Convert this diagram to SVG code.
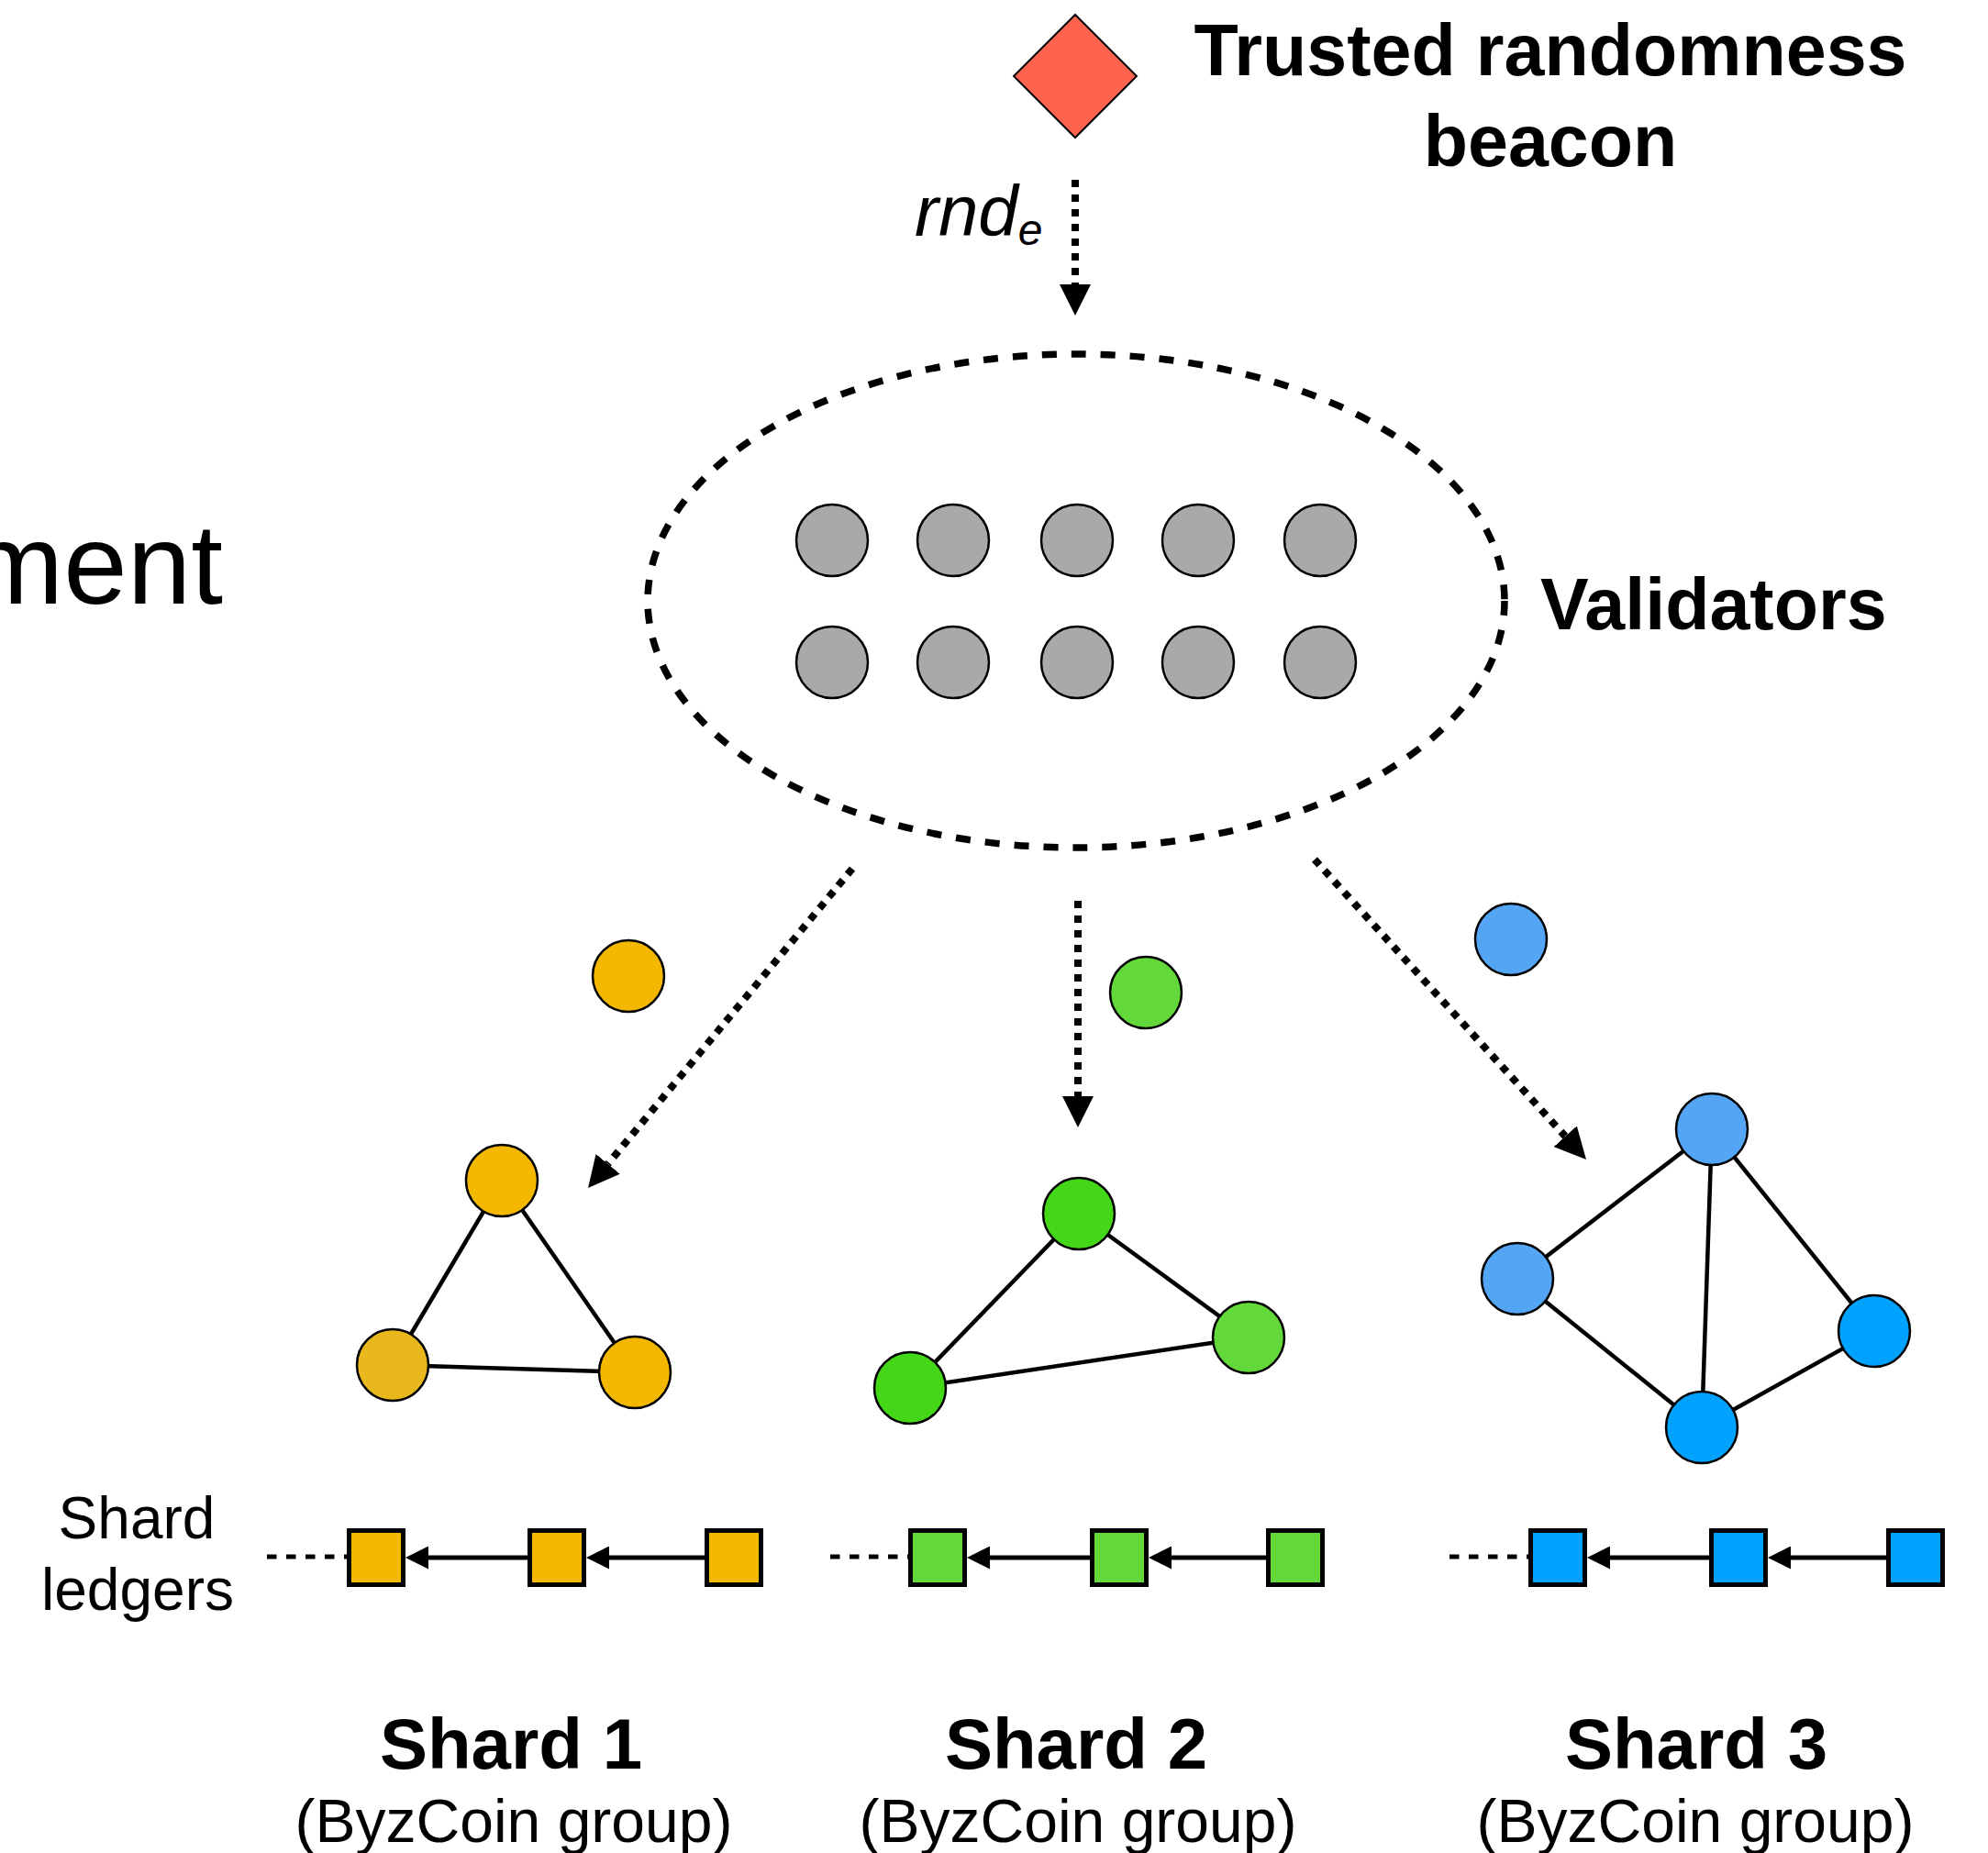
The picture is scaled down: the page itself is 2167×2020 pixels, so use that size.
<svg xmlns="http://www.w3.org/2000/svg" width="2167" height="2020" viewBox="0 0 2167 2020">
  <style>
    .bold { font-family: "Liberation Sans", Arial, sans-serif; font-weight: bold; fill: #000; }
    .reg { font-family: "Liberation Sans", Arial, sans-serif; font-weight: normal; fill: #000; }
    .ital { font-family: "Liberation Sans", Arial, sans-serif; font-style: italic; fill: #000; }
    .node { stroke: #000; stroke-width: 2.5; }
    .gray { fill: #a7aaa9; }
    .y1 { fill: #f5b800; }
    .y2 { fill: #e8b81c; }
    .g1 { fill: #44d718; }
    .g2 { fill: #63d83a; }
    .b1 { fill: #55a5f5; }
    .b2 { fill: #00a2ff; }
    .edge { stroke: #000; stroke-width: 4.5; fill: none; }
    .dots { stroke: #000; stroke-width: 8; stroke-dasharray: 8 8; fill: none; }
    .tail { stroke: #000; stroke-width: 5; stroke-dasharray: 10.5 10.5; fill: none; }
    .link { stroke: #000; stroke-width: 5; fill: none; }
    .block { stroke: #000; stroke-width: 5; }
  </style>
  <defs>
    <marker id="bigHead" markerUnits="userSpaceOnUse" markerWidth="34" markerHeight="34" refX="0" refY="17" orient="auto">
      <path d="M0,0 L34,17 L0,34 z" fill="#000"/>
    </marker>
    <marker id="smallHead" markerUnits="userSpaceOnUse" markerWidth="25" markerHeight="25" refX="0" refY="12.5" orient="auto">
      <path d="M0,0 L25,12.5 L0,25 z" fill="#000"/>
    </marker>
  </defs>

  <rect width="2167" height="2020" fill="#fff"/>

  <!-- partial heading at the left edge -->
  <text class="reg" x="243" y="658" font-size="125" text-anchor="end">ment</text>

  <!-- connectors -->
  <g id="connectors">
    <line class="dots" x1="1172" y1="196" x2="1172" y2="310" marker-end="url(#bigHead)"/>
    <line class="dots" x1="929" y1="947" x2="662.7" y2="1268.8" marker-end="url(#bigHead)"/>
    <line class="dots" x1="1175" y1="982" x2="1175" y2="1195" marker-end="url(#bigHead)"/>
    <line class="dots" x1="1433" y1="937" x2="1706.2" y2="1238.8" marker-end="url(#bigHead)"/>

    <!-- shard 1 edges -->
    <line class="edge" x1="547" y1="1287" x2="428" y2="1488"/>
    <line class="edge" x1="547" y1="1287" x2="692" y2="1496"/>
    <line class="edge" x1="428" y1="1488" x2="692" y2="1496"/>
    <!-- shard 2 edges -->
    <line class="edge" x1="1176" y1="1323" x2="992" y2="1513"/>
    <line class="edge" x1="1176" y1="1323" x2="1361" y2="1458"/>
    <line class="edge" x1="992" y1="1513" x2="1361" y2="1458"/>
    <!-- shard 3 edges -->
    <line class="edge" x1="1866" y1="1231" x2="1654" y2="1394"/>
    <line class="edge" x1="1866" y1="1231" x2="1855" y2="1556"/>
    <line class="edge" x1="1866" y1="1231" x2="2043" y2="1451"/>
    <line class="edge" x1="1654" y1="1394" x2="1855" y2="1556"/>
    <line class="edge" x1="2043" y1="1451" x2="1855" y2="1556"/>

    <!-- ledger chains -->
    <line class="tail" x1="291" y1="1697" x2="379" y2="1697"/>
    <line class="link" x1="577" y1="1698" x2="467" y2="1698" marker-end="url(#smallHead)"/>
    <line class="link" x1="769" y1="1698" x2="664" y2="1698" marker-end="url(#smallHead)"/>

    <line class="tail" x1="905" y1="1697" x2="991" y2="1697"/>
    <line class="link" x1="1189" y1="1698" x2="1079" y2="1698" marker-end="url(#smallHead)"/>
    <line class="link" x1="1381" y1="1698" x2="1277" y2="1698" marker-end="url(#smallHead)"/>

    <line class="tail" x1="1580" y1="1697" x2="1667" y2="1697"/>
    <line class="link" x1="1864" y1="1698" x2="1755" y2="1698" marker-end="url(#smallHead)"/>
    <line class="link" x1="2057" y1="1698" x2="1952" y2="1698" marker-end="url(#smallHead)"/>
  </g>

  <!-- randomness beacon -->
  <g id="beacon">
    <polygon points="1172,16 1239,83 1172,150 1105,83" fill="#fe634e" stroke="#000" stroke-width="2"/>
    <text class="bold" x="1690" y="82" font-size="79" text-anchor="middle">Trusted randomness</text>
    <text class="bold" x="1690" y="181" font-size="79" text-anchor="middle">beacon</text>
  </g>

  <g id="rnd-label">
    <text class="ital" x="997" y="257" font-size="78">rnd<tspan font-size="48" dy="10">e</tspan></text>
  </g>

  <!-- validator pool -->
  <g id="validators">
    <ellipse cx="1173" cy="655" rx="467" ry="269" fill="none" stroke="#000" stroke-width="7.5" stroke-dasharray="16 16"/>
    <circle class="node gray" cx="907" cy="589" r="39"/>
    <circle class="node gray" cx="1039" cy="589" r="39"/>
    <circle class="node gray" cx="1174" cy="589" r="39"/>
    <circle class="node gray" cx="1306" cy="589" r="39"/>
    <circle class="node gray" cx="1439" cy="589" r="39"/>
    <circle class="node gray" cx="907" cy="722" r="39"/>
    <circle class="node gray" cx="1039" cy="722" r="39"/>
    <circle class="node gray" cx="1174" cy="722" r="39"/>
    <circle class="node gray" cx="1306" cy="722" r="39"/>
    <circle class="node gray" cx="1439" cy="722" r="39"/>
    <text class="bold" x="1679" y="686" font-size="79">Validators</text>
  </g>

  <!-- validators being assigned -->
  <g id="assigned">
    <circle class="node y1" cx="685" cy="1064" r="39"/>
    <circle class="node g2" cx="1249" cy="1082" r="39"/>
    <circle class="node b1" cx="1647" cy="1024" r="39"/>
  </g>

  <!-- shard 1 -->
  <g id="shard1">
    <circle class="node y1" cx="547" cy="1287" r="39"/>
    <circle class="node y2" cx="428" cy="1488" r="39"/>
    <circle class="node y1" cx="692" cy="1496" r="39"/>
    <rect class="block y1" x="380.5" y="1668.5" width="59" height="59"/>
    <rect class="block y1" x="577.5" y="1668.5" width="59" height="59"/>
    <rect class="block y1" x="770.5" y="1668.5" width="59" height="59"/>
    <text class="bold" x="557" y="1928" font-size="78" text-anchor="middle">Shard 1</text>
    <text class="reg" x="560" y="2008" font-size="66" text-anchor="middle">(ByzCoin group)</text>
  </g>

  <!-- shard 2 -->
  <g id="shard2">
    <circle class="node g1" cx="1176" cy="1323" r="39"/>
    <circle class="node g1" cx="992" cy="1513" r="39"/>
    <circle class="node g2" cx="1361" cy="1458" r="39"/>
    <rect class="block g2" x="992.5" y="1668.5" width="59" height="59"/>
    <rect class="block g2" x="1190.5" y="1668.5" width="59" height="59"/>
    <rect class="block g2" x="1382.5" y="1668.5" width="59" height="59"/>
    <text class="bold" x="1173" y="1928" font-size="78" text-anchor="middle">Shard 2</text>
    <text class="reg" x="1175" y="2008" font-size="66" text-anchor="middle">(ByzCoin group)</text>
  </g>

  <!-- shard 3 -->
  <g id="shard3">
    <circle class="node b1" cx="1866" cy="1231" r="39"/>
    <circle class="node b1" cx="1654" cy="1394" r="39"/>
    <circle class="node b2" cx="2043" cy="1451" r="39"/>
    <circle class="node b2" cx="1855" cy="1556" r="39"/>
    <rect class="block b2" x="1668.5" y="1668.5" width="59" height="59"/>
    <rect class="block b2" x="1865.5" y="1668.5" width="59" height="59"/>
    <rect class="block b2" x="2058.5" y="1668.5" width="59" height="59"/>
    <text class="bold" x="1849" y="1928" font-size="78" text-anchor="middle">Shard 3</text>
    <text class="reg" x="1848" y="2008" font-size="66" text-anchor="middle">(ByzCoin group)</text>
  </g>

  <g id="ledger-label">
    <text class="reg" x="149" y="1677" font-size="64" text-anchor="middle">Shard</text>
    <text class="reg" x="150" y="1755" font-size="64" text-anchor="middle">ledgers</text>
  </g>
</svg>
